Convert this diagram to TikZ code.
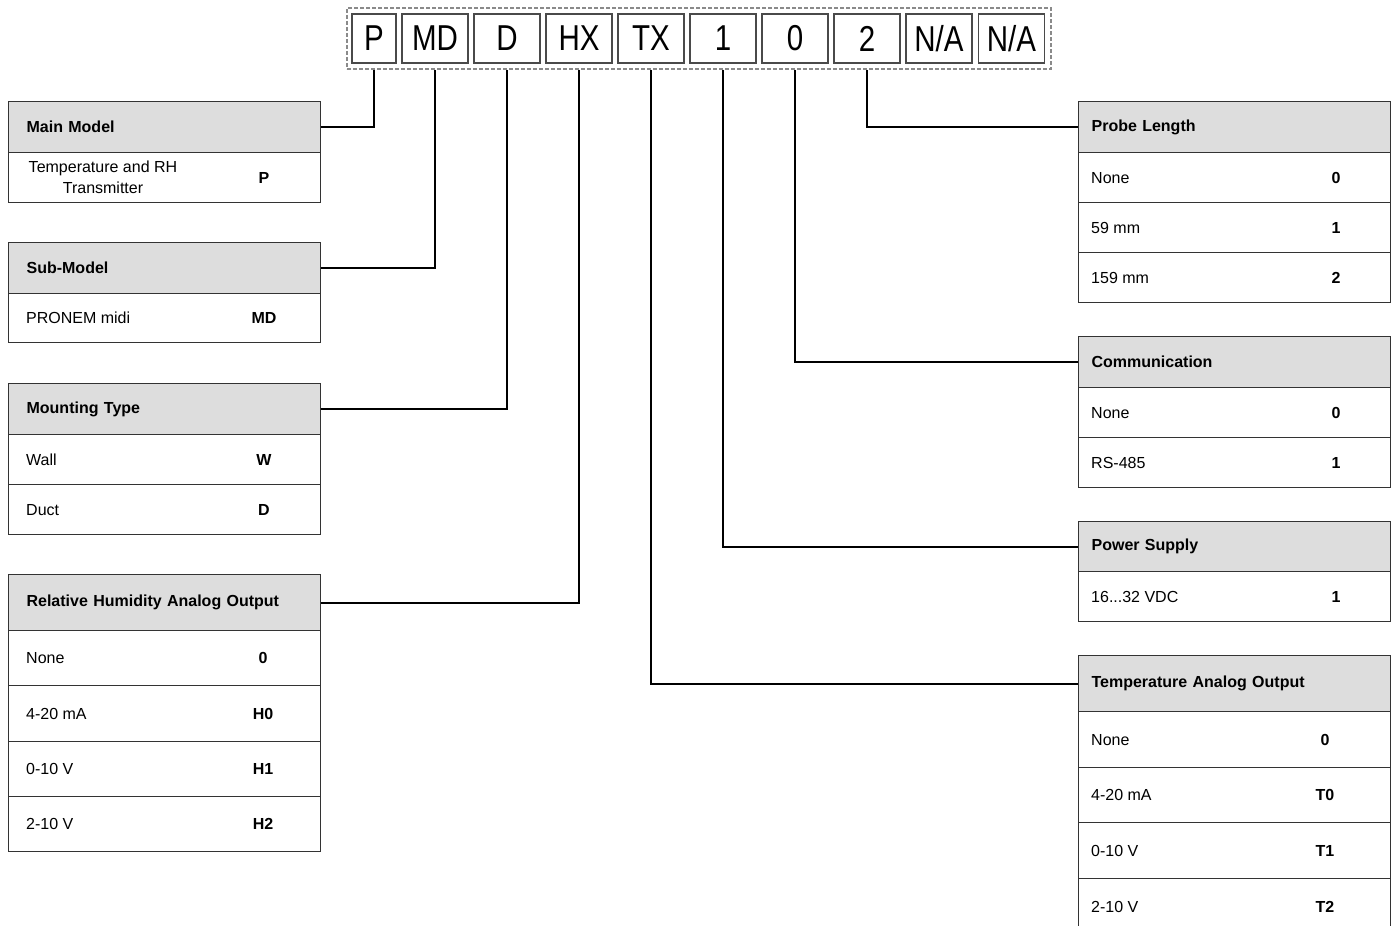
\documentclass[tikz,border=0pt]{standalone}
\usepackage{fontspec}
\setmainfont{Liberation Sans}
\newfontfamily\codefont[FakeStretch=0.82]{Liberation Sans}
\definecolor{hdrgray}{HTML}{DDDDDD}
\definecolor{tline}{HTML}{333333}
\definecolor{boxgray}{HTML}{4A4A4A}
\definecolor{dashgray}{HTML}{8A8A8A}
\tikzset{
  cell/.style={draw=tline, line width=1.2pt, anchor=north west, minimum width=312pt, inner sep=0pt},
  hdr/.style={cell, fill=hdrgray, text width=276pt, inner xsep=18pt, align=left, font=\fontsize{16}{20}\selectfont\bfseries},
  hdrR/.style={hdr, text width=286pt, inner xsep=13pt},
  lbl/.style={anchor=west, inner sep=0pt, font=\fontsize{16}{20}\selectfont},
  codelbl/.style={anchor=center, inner sep=0pt, font=\fontsize{16}{20}\selectfont\bfseries},
  codebox/.style={draw=boxgray, line width=1.5pt, minimum width=66pt, minimum height=49pt, inner sep=0pt, font=\codefont\fontsize{36}{40}\selectfont},
  conn/.style={line width=2pt, black},
}
% name, x, ytop, height, label, code, code offset, label offset
\newcommand\trow[8]{%
  \node[cell, minimum height=#4pt] (#1) at (#2,#3) {};
  \node[lbl, xshift=#8pt] (#1-l) at (#1.west) {#5};
  \node[codelbl, xshift=#7pt] (#1-c) at (#1.west) {#6};
}
\begin{document}
\begin{tikzpicture}[x=1pt,y=-1pt]
\useasboundingbox (0,0) rectangle (1398,926);
\clip (0,0) rectangle (1398,926);
\fill[white] (0,0) rectangle (1398,926);

% code boxes
\node[draw=dashgray, line width=1.2pt, dash pattern=on 4pt off 2pt, minimum width=704pt, minimum height=61pt, inner sep=0pt] (outer) at (699,38.5) {};
\node[codebox, minimum width=44pt] (bP) at (374,38.5) {P};
\node[codebox] (bMD) at (435,38.5) {MD};
\node[codebox] (bD) at (507,38.5) {D};
\node[codebox] (bHX) at (579,38.5) {HX};
\node[codebox] (bTX) at (651,38.5) {TX};
\node[codebox] (b1) at (723,38.5) {1};
\node[codebox] (b0) at (795,38.5) {0};
\node[codebox] (b2) at (867,38.5) {2};
\node[codebox] (bNA1) at (939,38.5) {N/A};
\node[codebox] (bNA2) at (1011.5,38.5) {N/A};

% left tables
\node[hdr, minimum height=51pt] (mmh) at (8,101) {Main Model};
\node[cell, minimum height=50pt] (mm1) at (8,152) {};
\node[lbl, anchor=center, align=center, xshift=95pt, font=\fontsize{16}{21}\selectfont] (mm1-l) at (mm1.west) {Temperature and RH\\Transmitter};
\node[codelbl, xshift=256pt] (mm1-c) at (mm1.west) {P};

\node[hdr, minimum height=51pt] (smh) at (8,242) {Sub-Model};
\trow{sm1}{8}{293}{49}{PRONEM midi}{MD}{256}{18}

\node[hdr, minimum height=51pt] (mth) at (8,383) {Mounting Type};
\trow{mt1}{8}{434}{50}{Wall}{W}{256}{18}
\trow{mt2}{8}{484}{50}{Duct}{D}{256}{18}

\node[hdr, minimum height=56pt] (rhh) at (8,574) {Relative Humidity Analog Output};
\trow{rh1}{8}{630}{55}{None}{0}{255}{18}
\trow{rh2}{8}{685}{56}{4-20 mA}{H0}{255}{18}
\trow{rh3}{8}{741}{55}{0-10 V}{H1}{255}{18}
\trow{rh4}{8}{796}{55}{2-10 V}{H2}{255}{18}

% right tables
\node[hdrR, minimum height=51pt] (plh) at (1078,101) {Probe Length};
\trow{pl1}{1078}{152}{50}{None}{0}{258}{13}
\trow{pl2}{1078}{202}{50}{59 mm}{1}{258}{13}
\trow{pl3}{1078}{252}{50}{159 mm}{2}{258}{13}

\node[hdrR, minimum height=51pt] (coh) at (1078,336) {Communication};
\trow{co1}{1078}{387}{50}{None}{0}{258}{13}
\trow{co2}{1078}{437}{50}{RS-485}{1}{258}{13}

\node[hdrR, minimum height=50pt] (psh) at (1078,521) {Power Supply};
\trow{ps1}{1078}{571}{50}{16...32 VDC}{1}{258}{13}

\node[hdrR, minimum height=56pt] (tah) at (1078,655) {Temperature Analog Output};
\trow{ta1}{1078}{711}{56}{None}{0}{247}{13}
\trow{ta2}{1078}{767}{55}{4-20 mA}{T0}{247}{13}
\trow{ta3}{1078}{822}{56}{0-10 V}{T1}{247}{13}
\trow{ta4}{1078}{878}{56}{2-10 V}{T2}{247}{13}

% connectors
\draw[conn] (bP.south |- outer.south) |- (mmh.east);
\draw[conn] (bMD.south |- outer.south) |- (smh.east);
\draw[conn] (bD.south |- outer.south) |- (mth.east);
\draw[conn] (bHX.south |- outer.south) |- (rhh.east);
\draw[conn] (bTX.south |- outer.south) |- (tah.west);
\draw[conn] (b1.south |- outer.south) |- (psh.west);
\draw[conn] (b0.south |- outer.south) |- (coh.west);
\draw[conn] (b2.south |- outer.south) |- (plh.west);
\end{tikzpicture}
\end{document}
